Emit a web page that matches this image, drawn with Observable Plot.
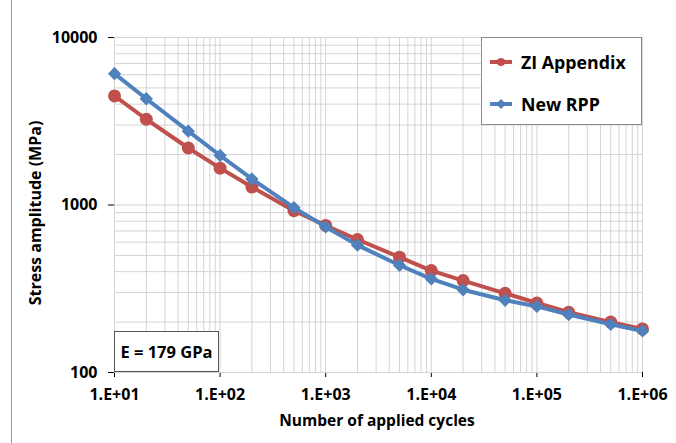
<!DOCTYPE html>
<html><head><meta charset="utf-8">
<script src="https://cdn.jsdelivr.net/npm/d3@7"></script>
<script src="https://cdn.jsdelivr.net/npm/@observablehq/plot@0.6"></script>
<style>
body{margin:0;background:#fff;font-family:"Open Sans",Lato,sans-serif;}
#wrap{position:relative;width:676px;height:443px;overflow:hidden;}
.abs{position:absolute;font-weight:bold;color:#000;white-space:nowrap;}
</style></head>
<body><div id="wrap"></div>
<script>
const cycles = [10,20,50,100,200,500,1000,2000,5000,1e4,2e4,5e4,1e5,2e5,5e5,1e6];
const ziAppendix = [4480,3250,2190,1660,1280,925,755,622,488,406,354,297,260,229,200,182];
const newRPP = [6080,4310,2760,1975,1430,965,740,576,437,362,312,270,248,222,194,177];
const seriesNames = ["ZI Appendix","New RPP"];
const colors = ["#C0504D","#4F81BD"];
const xMajor = [10,100,1000,1e4,1e5,1e6];
const yMajor = [100,1000,10000];

const rows = [];
cycles.forEach((c,i)=>{rows.push({n:c,s:ziAppendix[i],k:seriesNames[0]});});
cycles.forEach((c,i)=>{rows.push({n:c,s:newRPP[i],k:seriesNames[1]});});
const xGrid = d3.scaleLog().domain([10,1e6]).ticks();
const yGrid = d3.scaleLog().domain([100,10000]).ticks();
const fmtX = d => "1.E+" + String(Math.round(Math.log10(d))).padStart(2,"0");

const chart = Plot.plot({
  width:676, height:443,
  marginLeft:114, marginRight:34, marginTop:37, marginBottom:71,
  style:{fontFamily:"'Open Sans', sans-serif", fontSize:"16px", fontWeight:"bold", color:"#000", background:"#fff"},
  x:{type:"log", domain:[10,1e6], ticks:xMajor, tickFormat:fmtX, tickSize:5, tickPadding:11, label:null},
  y:{type:"log", domain:[100,10000], ticks:yMajor, tickFormat:d3.format("d"), tickSize:6, tickPadding:11, label:null},
  color:{domain:seriesNames, range:colors},
  marks:[
    Plot.ruleX(xGrid,{stroke:"#d4d4d4", strokeWidth:1}),
    Plot.ruleY(yGrid,{stroke:"#d4d4d4", strokeWidth:1}),
    Plot.line(rows.filter(d=>d.k===seriesNames[0]),{x:"n",y:"s",stroke:colors[0],strokeWidth:4}),
    Plot.dot(rows.filter(d=>d.k===seriesNames[0]),{x:"n",y:"s",fill:colors[0],r:6.5,symbol:"circle"}),
    Plot.line(rows.filter(d=>d.k===seriesNames[1]),{x:"n",y:"s",stroke:colors[1],strokeWidth:4}),
    Plot.dot(rows.filter(d=>d.k===seriesNames[1]),{x:"n",y:"s",fill:colors[1],r:6,symbol:"diamond2"})
  ]
});
const wrap = document.getElementById("wrap");
wrap.appendChild(chart);
chart.style.position="absolute"; chart.style.left="0"; chart.style.top="0";

function div(html, css){const d=document.createElement("div");d.className="abs";d.innerHTML=html;Object.assign(d.style,css);wrap.appendChild(d);return d;}
// chart frame left line
div("",{left:"11px",top:"0px",width:"1px",height:"443px",background:"#999"});
// axis titles
div("Number of applied cycles",{left:"377px",top:"409px",transform:"translateX(-50%)",fontSize:"15.5px"});
div("Stress amplitude (MPa)",{left:"35px",top:"213px",transform:"translate(-50%,-50%) rotate(-90deg)",fontSize:"16px"});
// annotation
div("E = 179 GPa",{left:"114px",top:"331px",width:"105px",height:"41px",border:"1px solid #555",background:"#fff",boxSizing:"border-box",fontSize:"16.5px",display:"flex",alignItems:"center",justifyContent:"center"});
// legend
const sw = (c,sym)=>`<svg width="22" height="12" style="vertical-align:middle"><line x1="0" y1="6" x2="22" y2="6" stroke="${c}" stroke-width="4"/>${sym}</svg>`;
const lg = div("",{left:"481px",top:"37px",width:"161px",height:"88px",border:"1px solid #8c8c8c",background:"#fff",boxSizing:"border-box"});
seriesNames.forEach((n,i)=>{
  const sym = i===0 ? `<ellipse cx="11" cy="6" rx="4.5" ry="4" fill="${colors[0]}"/>` : `<path d="M11 1 L16 6 L11 11 L6 6Z" fill="${colors[1]}"/>`;
  const e=document.createElement("div");
  e.innerHTML = sw(colors[i],sym)+`<span style="margin-left:9px;font-size:17.8px;vertical-align:middle">${n}</span>`;
  Object.assign(e.style,{position:"absolute",left:"8px",top:(i===0?9:51)+"px",whiteSpace:"nowrap",lineHeight:"26px"});
  lg.appendChild(e);
});
</script></body></html>
